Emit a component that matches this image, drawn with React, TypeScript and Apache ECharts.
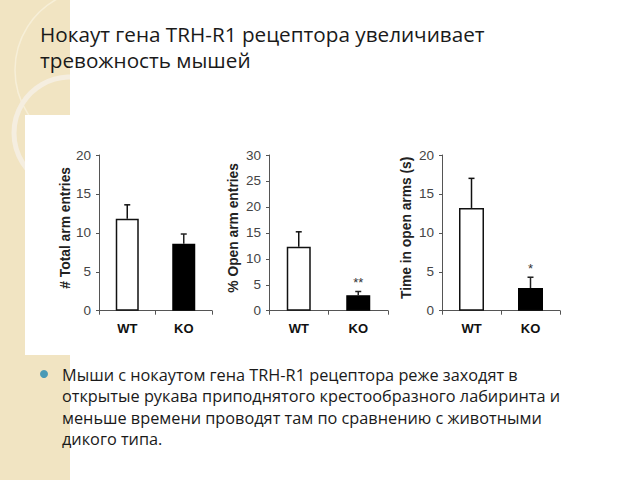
import React, { useEffect, useRef } from "react";
import * as echarts from "echarts";

const categories = ["WT", "KO"];
const totalEntriesMean = [11.8, 8.6];
const totalEntriesSem = [1.8, 1.25];
const openEntriesMean = [12.3, 3.0];
const openEntriesSem = [2.9, 0.7];
const openTimeMean = [13.2, 2.9];
const openTimeSem = [3.8, 1.4];
const totalStars = ["", ""];
const openEntriesStars = ["", "**"];
const openTimeStars = ["", "*"];
const yTitles = ["# Total arm entries", "% Open arm entries", "Time in open arms (s)"];
const yMaxes = [20, 30, 20];
const titleText = "Нокаут гена TRH-R1 рецептора увеличивает\nтревожность мышей";
const bulletText =
  "Мыши с нокаутом гена TRH-R1 рецептора реже заходят в\nоткрытые рукава приподнятого крестообразного лабиринта и\nменьше времени проводят там по сравнению с животными\nдикого типа.";

const means = [totalEntriesMean, openEntriesMean, openTimeMean];
const sems = [totalEntriesSem, openEntriesSem, openTimeSem];
const stars = [totalStars, openEntriesStars, openTimeStars];

const grids = [
  { left: 99, width: 113 },
  { left: 269, width: 119 },
  { left: 442, width: 118 },
];
const barWidths = [23, 24, 25];
const nameGaps = [26, 29, 29];

const SANS = "'Liberation Sans', Arial, sans-serif";

export default function App() {
  const ref = useRef<HTMLDivElement>(null);
  useEffect(() => {
    document.body.style.margin = "0";
    const chart = echarts.init(ref.current!, undefined, { renderer: "svg" });
    const option: any = {
      animation: false,
      backgroundColor: "#ffffff",
      grid: grids.map((g) => ({ left: g.left, width: g.width, top: 155, bottom: 169.3 })),
      xAxis: grids.map((_, i) => ({
        type: "category",
        gridIndex: i,
        data: categories,
        axisLine: { lineStyle: { color: "#555", width: 1 } },
        axisTick: { show: true, length: 4, lineStyle: { color: "#555" } },
        axisLabel: { color: "#111", fontSize: 13, fontWeight: "bold", fontFamily: SANS, margin: 11 },
      })),
      yAxis: grids.map((_, i) => ({
        type: "value",
        gridIndex: i,
        min: 0,
        max: yMaxes[i],
        interval: 5,
        name: yTitles[i],
        nameLocation: "middle",
        nameGap: nameGaps[i],
        nameTextStyle: {
          color: "#222",
          fontSize: 13.8,
          fontWeight: "bold",
          fontFamily: SANS,
          padding: [0, 0, 0, 10],
        },
        splitLine: { show: false },
        axisLine: { show: true, lineStyle: { color: "#555", width: 1 } },
        axisTick: { show: true, length: 3, lineStyle: { color: "#555" } },
        axisLabel: { color: "#444", fontSize: 13.5, fontFamily: SANS, margin: 8 },
      })),
      series: [
        ...means.map((m, i) => ({
          type: "bar",
          xAxisIndex: i,
          yAxisIndex: i,
          barWidth: barWidths[i],
          z: 2,
          data: m.map((v, j) => ({
            value: v,
            itemStyle:
              j === 0
                ? { color: "#ffffff", borderColor: "#111", borderWidth: 1.5 }
                : { color: "#000000", borderColor: "#000", borderWidth: 1.5 },
          })),
        })),
        ...means.map((m, i) => ({
          type: "custom",
          xAxisIndex: i,
          yAxisIndex: i,
          z: 3,
          data: m.map((v, j) => [j, v, sems[i][j]]),
          renderItem: (params: any, api: any) => {
            const idx = api.value(0);
            const mean = api.value(1);
            const sem = api.value(2);
            const base = api.coord([idx, mean]);
            const top = api.coord([idx, mean + sem]);
            const col = idx === 0 ? "#111" : "#222";
            const star = stars[i][params.dataIndex];
            const children: any[] = [
              {
                type: "line",
                shape: { x1: base[0], y1: base[1], x2: top[0], y2: top[1] },
                style: { stroke: col, lineWidth: 1.5 },
              },
              {
                type: "line",
                shape: { x1: top[0] - 3, y1: top[1], x2: top[0] + 3, y2: top[1] },
                style: { stroke: col, lineWidth: 1.5 },
              },
            ];
            if (star) {
              children.push({
                type: "text",
                x: top[0],
                y: top[1] - 2,
                style: {
                  text: star,
                  fill: "#333",
                  font: `13px ${SANS}`,
                  align: "center",
                  verticalAlign: "bottom",
                },
              });
            }
            return { type: "group", children };
          },
        })),
      ],
      graphic: [
        { type: "rect", z: -10, shape: { x: 0, y: 0, width: 70, height: 480 }, style: { fill: "#f1e4c2" } },
        { type: "circle", z: -9, shape: { cx: 96, cy: 70, r: 81 }, style: { fill: "none", stroke: "#f7efd8", lineWidth: 1.5 } },
        { type: "circle", z: -9, shape: { cx: 70, cy: 133, r: 56 }, style: { fill: "none", stroke: "#f5eee0", lineWidth: 5 } },
        { type: "rect", z: -8, shape: { x: 70, y: 0, width: 570, height: 480 }, style: { fill: "#ffffff" } },
        { type: "rect", z: -7, shape: { x: 25, y: 115, width: 615, height: 240 }, style: { fill: "#ffffff" } },
        {
          type: "text",
          z: 10,
          x: 40,
          y: 21,
          style: {
            text: titleText,
            fill: "#1a1a1a",
            font: "20.7px 'Open Sans', sans-serif",
            lineHeight: 26,
          },
        },
        { type: "circle", z: 10, shape: { cx: 44, cy: 374, r: 4 }, style: { fill: "#4a9ab6" } },
        {
          type: "text",
          z: 10,
          x: 62,
          y: 364,
          style: {
            text: bulletText,
            fill: "#1a1a1a",
            font: "16.3px 'Open Sans', sans-serif",
            lineHeight: 21.5,
          },
        },
      ],
    };
    chart.setOption(option);
    return () => chart.dispose();
  }, []);
  return <div ref={ref} style={{ position: "absolute", left: 0, top: 0, width: 640, height: 480 }} />;
}
